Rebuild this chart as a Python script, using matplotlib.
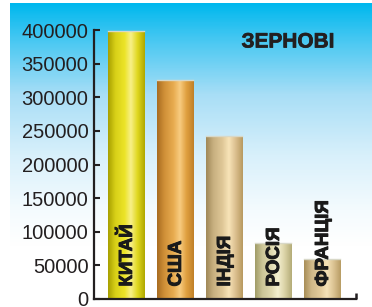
import numpy as np
import matplotlib
matplotlib.use('Agg')
import matplotlib.pyplot as plt
import matplotlib.patheffects as pe
from matplotlib.colors import LinearSegmentedColormap

# дані: зернові, тис. т
countries = ['КИТАЙ', 'США', 'ІНДІЯ', 'РОСІЯ', 'ФРАНЦІЯ']
values = [398000, 325000, 243000, 83000, 60000]
yticks = [0, 50000, 100000, 150000, 200000, 250000, 300000, 350000, 400000]
title = 'ЗЕРНОВІ'

# кольори "циліндрів": ліво -> центр -> відблиск -> право
bar_colors = [
    ['#a8a000', '#d8d018', '#ece428', '#f8f088', '#e0d820', '#b0a800'],
    ['#a86c20', '#d09038', '#e8ac50', '#f8cc80', '#e0a040', '#c08028'],
    ['#a08858', '#c8b080', '#e0c898', '#f8e4b8', '#dcc090', '#b89a60'],
    ['#a09c68', '#ccc698', '#e0dab0', '#f4f0d0', '#dcd4a8', '#b4ac78'],
    ['#a88e58', '#d0b888', '#e4cc9c', '#f6e2b8', '#dcc494', '#b89c64'],
]

plt.rcParams['font.family'] = ['Liberation Sans', 'DejaVu Sans']
W, H = 372, 307
fig = plt.figure(figsize=(W / 100, H / 100), dpi=100)

# фон з градієнтом
bg = fig.add_axes([10 / W, 0, 1 - 10 / W, 1 - 3 / H])
bg.set_axis_off()
grad_cmap = LinearSegmentedColormap.from_list(
    'sky', [(0, '#00b8ee'), (0.12, '#48c8f2'), (0.3, '#a8def6'),
            (0.5, '#d8f0fb'), (0.68, '#f4fbfe'), (0.8, '#ffffff'), (1, '#ffffff')])
g = np.linspace(0, 1, 300).reshape(-1, 1)
bg.imshow(g, cmap=grad_cmap, aspect='auto', extent=[0, 1, 0, 1], origin='upper')
bg.set_xlim(0, 1)
bg.set_ylim(0, 1)

# основні осі
ax = fig.add_axes([94 / W, 1 - 299 / H, (356 - 94) / W, (299 - 30) / H])
ax.patch.set_alpha(0)
x = np.arange(len(countries))
width = 0.75
xmin = -32 / 49
xmax = len(countries) - 1 + 34 / 49

bars = ax.bar(x, values, width=width, color='none', edgecolor='none', zorder=2)
grad = np.linspace(0, 1, 200).reshape(1, -1)
for b, cols in zip(bars, bar_colors):
    cm = LinearSegmentedColormap.from_list('c', [(0, cols[0]), (0.2, cols[1]), (0.45, cols[2]),
                                                 (0.62, cols[3]), (0.8, cols[4]), (1, cols[5])])
    bx, by = b.get_x(), b.get_y()
    im = ax.imshow(grad, cmap=cm, aspect='auto', zorder=2,
                   extent=[bx, bx + b.get_width(), by, by + b.get_height()])
    im.set_clip_path(b)
    ax.plot([bx, bx + b.get_width()], [b.get_height()] * 2, color='#d8d8c8', lw=1, zorder=3)

for xi, name in zip(x, countries):
    ax.annotate(name, (xi, 0), xytext=(1, 9), textcoords='offset points',
                rotation=90, ha='center', va='bottom', fontsize=13.5,
                fontweight='bold', color='#1a1a1a', zorder=4,
                path_effects=[pe.withStroke(linewidth=0.7, foreground='#1a1a1a')])

ax.set_xlim(xmin, xmax)
ax.set_ylim(0, 400000)

for s in ['top', 'right']:
    ax.spines[s].set_visible(False)
for s in ['left', 'bottom']:
    ax.spines[s].set_color('#231f20')
    ax.spines[s].set_linewidth(1.6)

ax.set_yticks(yticks)
ax.set_yticklabels([str(v) for v in yticks])
ax.tick_params(axis='y', direction='in', length=4.5, width=1.5, color='#231f20',
               labelsize=14.5, labelcolor='#231f20', pad=4)
ax.set_xticks([xmax])
ax.set_xticklabels([''])
ax.tick_params(axis='x', direction='in', length=4.5, width=1.8, color='#231f20')

fig.text(288 / W, 1 - 42 / H, title, ha='center', va='center', fontsize=15,
         fontweight='bold', color='#231f20',
         path_effects=[pe.withStroke(linewidth=0.5, foreground='#231f20')])

fig.savefig('out.png', dpi=100)
